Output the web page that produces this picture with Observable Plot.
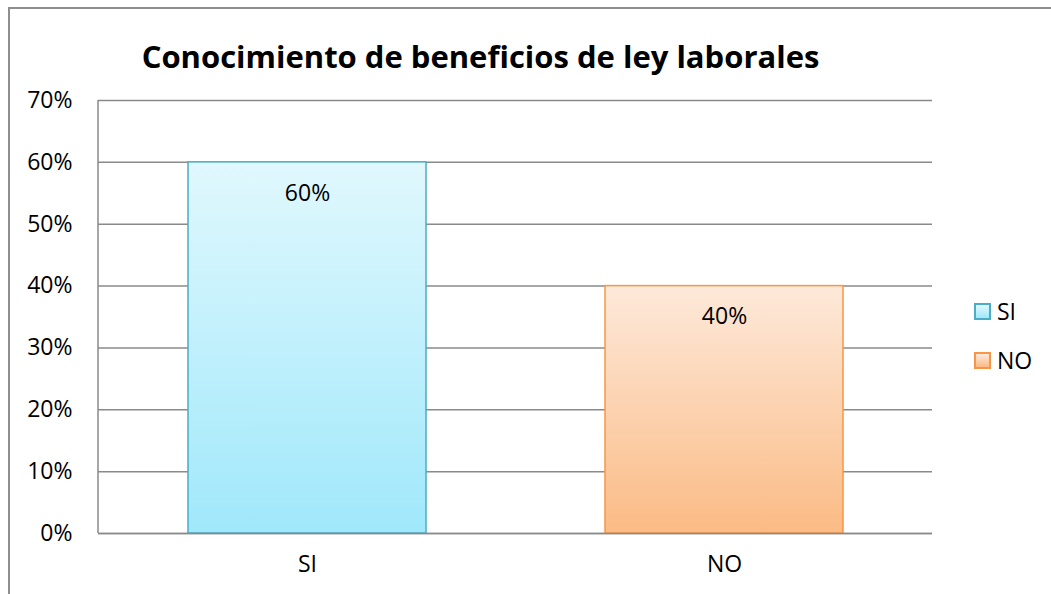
<!DOCTYPE html>
<html>
<head>
<meta charset="utf-8">
<script src="https://cdn.jsdelivr.net/npm/d3@7"></script>
<script src="https://cdn.jsdelivr.net/npm/@observablehq/plot@0.6"></script>
<style>
  html, body { margin: 0; padding: 0; width: 1051px; height: 594px; overflow: hidden; background: #fff; }
  #wrap { position: relative; width: 1051px; height: 594px; font-family: "Open Sans", sans-serif; }
  #border { position: absolute; left: 8px; top: 7px; width: 1100px; height: 700px; border: 2px solid #8e8e8e; box-sizing: border-box; }
  #chart { position: absolute; left: 0; top: 0; }
  #legend { position: absolute; left: 974px; top: 296px; font-size: 23px; color: #000; }
  .item { display: flex; align-items: center; height: 30px; margin-bottom: 19px; }
  .sw { width: 13px; height: 13px; border: 2px solid; margin-right: 6px; }
</style>
</head>
<body>
<div id="wrap">
  <div id="border"></div>
  <div id="chart"></div>
  <div id="legend"></div>
</div>
<script>
const title = "Conocimiento de beneficios de ley laborales";
const categories = ["SI", "NO"];
const values = [0.60, 0.40];
const yTicks = [0, 0.1, 0.2, 0.3, 0.4, 0.5, 0.6, 0.7];
const strokes = ["#4bacc6", "#f79646"];
const gradTop = ["#e0f8fd", "#fde9da"];
const gradBottom = ["#a0e8fb", "#fbbb85"];

const data = categories.map((c, i) => ({cat: c, value: values[i], idx: i}));
const pct = d3.format(".0%");

const leftAxisLine = (index, scales, values, dims) => {
  const l = document.createElementNS("http://www.w3.org/2000/svg", "line");
  l.setAttribute("x1", dims.marginLeft); l.setAttribute("x2", dims.marginLeft);
  l.setAttribute("y1", scales.y(0.7)); l.setAttribute("y2", scales.y(0));
  l.setAttribute("stroke", "#8a8a8a"); l.setAttribute("stroke-width", 1.5);
  return l;
};

const barMarks = data.map((d, i) => Plot.barY([d], {
  x: "cat", y: "value",
  fill: `url(#grad${i})`, stroke: strokes[i], strokeWidth: 1.5,
  style: "filter: drop-shadow(2px 1px 2px rgba(0,0,0,0.25))"
}));

const chart = Plot.plot({
  width: 1051, height: 594,
  marginLeft: 98, marginRight: 119, marginTop: 100, marginBottom: 61,
  style: {fontFamily: "Open Sans, sans-serif", background: "transparent", overflow: "visible"},
  x: {domain: categories, paddingInner: 0.43, paddingOuter: 0.215, label: null},
  y: {domain: [0, 0.7], label: null},
  marks: [
    Plot.gridY(yTicks, {stroke: "#8a8a8a", strokeOpacity: 1, strokeWidth: 1.5}),
    ...barMarks,
    Plot.ruleY([0], {stroke: "#8a8a8a", strokeWidth: 1.5}),
    leftAxisLine,
    Plot.axisY(yTicks, {tickSize: 0, tickPadding: 26, tickFormat: pct, fontSize: 23, fill: "#000", label: null}),
    Plot.axisX({tickSize: 0, tickPadding: 22, fontSize: 23, fill: "#000", label: null}),
    Plot.text(data, {x: "cat", y: "value", text: d => pct(d.value), dy: 31, fontSize: 23, fill: "#000"}),
    Plot.text([title], {frameAnchor: "top", dx: -35, dy: -55, fontSize: 31, fontWeight: "bold", fill: "#000"})
  ]
});

// gradients
const ns = "http://www.w3.org/2000/svg";
const defs = document.createElementNS(ns, "defs");
categories.forEach((c, i) => {
  const g = document.createElementNS(ns, "linearGradient");
  g.setAttribute("id", "grad" + i);
  g.setAttribute("x1", "0"); g.setAttribute("y1", "0"); g.setAttribute("x2", "0"); g.setAttribute("y2", "1");
  const s1 = document.createElementNS(ns, "stop"); s1.setAttribute("offset", "0"); s1.setAttribute("stop-color", gradTop[i]);
  const s2 = document.createElementNS(ns, "stop"); s2.setAttribute("offset", "1"); s2.setAttribute("stop-color", gradBottom[i]);
  g.appendChild(s1); g.appendChild(s2); defs.appendChild(g);
});
chart.insertBefore(defs, chart.firstChild);
document.getElementById("chart").appendChild(chart);

// legend
const legend = document.getElementById("legend");
categories.forEach((c, i) => {
  const item = document.createElement("div"); item.className = "item";
  const sw = document.createElement("div"); sw.className = "sw";
  sw.style.borderColor = strokes[i];
  sw.style.background = `linear-gradient(${gradTop[i]}, ${gradBottom[i]})`;
  const t = document.createElement("span"); t.textContent = c;
  item.appendChild(sw); item.appendChild(t); legend.appendChild(item);
});
</script>
</body>
</html>
